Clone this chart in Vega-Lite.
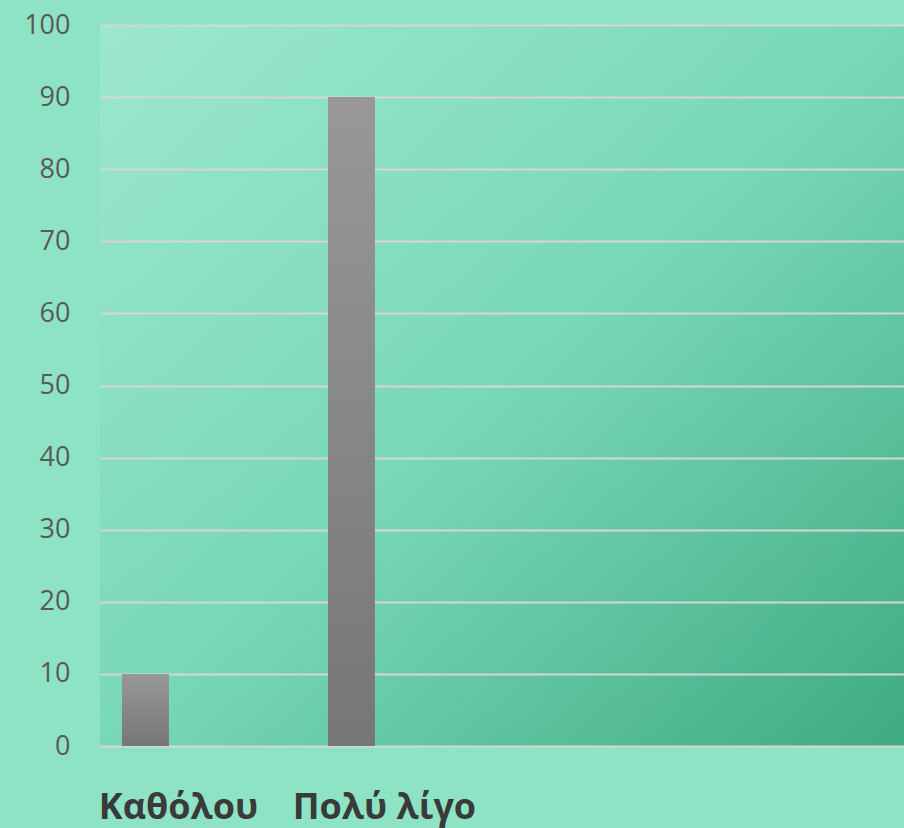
{
  "$schema": "https://vega.github.io/schema/vega-lite/v6.json",
  "width": 804,
  "height": 721,
  "autosize": {"type": "none"},
  "padding": {"left": 100, "top": 25, "right": 0, "bottom": 82},
  "background": "#8ee3c5",
  "config": {
    "font": "Open Sans",
    "view": {
      "stroke": null,
      "fill": {
        "gradient": "linear",
        "x1": 0, "y1": 0, "x2": 1, "y2": 1,
        "stops": [
          {"offset": 0, "color": "#9de8cd"},
          {"offset": 0.5, "color": "#78d8b6"},
          {"offset": 1, "color": "#3fab82"}
        ]
      }
    }
  },
  "data": {
    "values": [
      {"category": "Καθόλου", "value": 10},
      {"category": "Πολύ λίγο", "value": 90}
    ]
  },
  "mark": {
    "type": "bar",
    "fill": {
      "gradient": "linear",
      "x1": 0, "y1": 0, "x2": 0, "y2": 1,
      "stops": [
        {"offset": 0, "color": "#989898"},
        {"offset": 1, "color": "#767676"}
      ]
    }
  },
  "encoding": {
    "x": {
      "field": "category",
      "type": "nominal",
      "sort": null,
      "scale": {
        "domain": ["Καθόλου", "Πολύ λίγο", " ", "  "],
        "paddingInner": 0.772,
        "paddingOuter": 0.3375,
        "align": 0.158
      },
      "axis": {
        "title": null,
        "domain": false,
        "ticks": false,
        "labelAngle": 0,
        "labelFont": "Open Sans",
        "labelFontWeight": "bold",
        "labelFontSize": 36,
        "labelColor": "#3a3a3a",
        "labelPadding": 44,
        "labelOffset": 33,
        "labelLimit": 0,
        "labelBaseline": "top"
      }
    },
    "y": {
      "field": "value",
      "type": "quantitative",
      "scale": {"domain": [0, 100]},
      "axis": {
        "title": null,
        "domain": false,
        "ticks": false,
        "values": [0, 10, 20, 30, 40, 50, 60, 70, 80, 90, 100],
        "labelFont": "Open Sans",
        "labelFontSize": 27,
        "labelColor": "#595959",
        "labelPadding": 30,
        "gridColor": "#d6d6d6",
        "gridWidth": 2,
        "gridOpacity": 1
      }
    }
  }
}
